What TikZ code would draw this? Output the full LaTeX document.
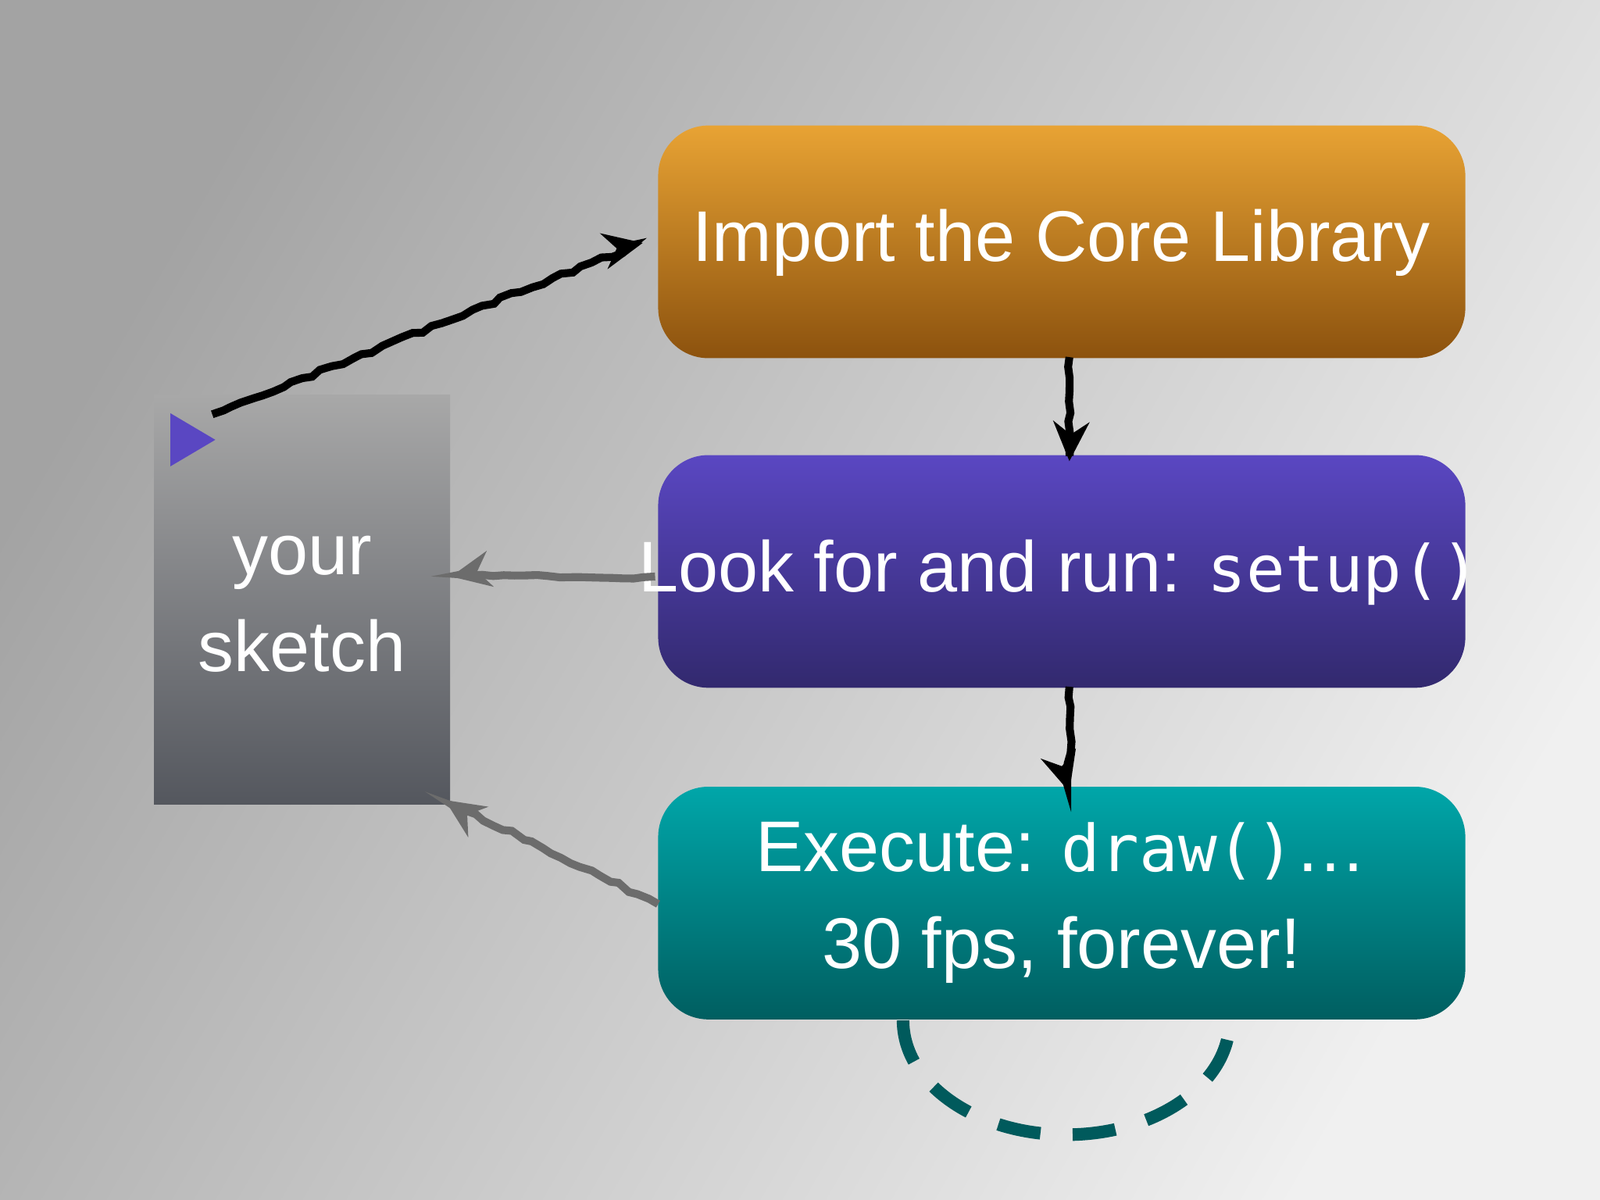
\documentclass[tikz,border=0pt]{standalone}
\usepackage{fontspec}
\setmainfont{Liberation Sans}
\newfontfamily\codefont{DejaVu Sans Mono}
\usetikzlibrary{arrows.meta,decorations.pathmorphing}
\definecolor{orT}{RGB}{232,163,52}\definecolor{orB}{RGB}{140,82,14}
\definecolor{puT}{RGB}{90,71,194}\definecolor{puB}{RGB}{50,41,110}
\definecolor{teT}{RGB}{0,166,169}\definecolor{teB}{RGB}{0,94,96}
\definecolor{grT}{RGB}{168,168,168}\definecolor{grB}{RGB}{84,87,94}
\definecolor{dash}{RGB}{0,90,92}
\begin{document}
\begin{tikzpicture}[x=0.01cm,y=-0.01cm,
  box/.style={rounded corners=14, draw=none},
  lbl/.style={text=white,font=\fontsize{20}{27}\selectfont,align=center},
  hand/.style={line width=2.2pt,decorate,decoration={random steps,segment length=3pt,amplitude=0.6pt},-{Stealth[length=11pt,width=10pt]}},
  handg/.style={hand,draw=gray!85!black,color=gray!85!black}]
\useasboundingbox (0,0) rectangle (1568,1176);
\shade[shading=axis,left color=black!36,right color=black!6,shading angle=60] (0,0) rectangle (1568,1176);
\draw[draw=dash,line width=3.5pt,dash pattern=on 12pt off 9pt] (885,1000) arc[start angle=180,end angle=0,x radius=160,y radius=112];
\shade[box,top color=orT,bottom color=orB] (645,123) rectangle (1436,351);
\shade[box,top color=puT,bottom color=puB] (645,446) rectangle (1436,674);
\shade[box,top color=teT,bottom color=teB] (645,771) rectangle (1436,999);
\shade[top color=grT,bottom color=grB] (151,387) rectangle (441,788);
\fill[puT] (167,405) -- (211,431) -- (167,457) -- cycle;
\node[lbl] (imp) at (1040,238) {Import the Core Library};
\node[lbl] (set) at (1038,561) {Look for and run: {\codefont\fontsize{18}{24}\selectfont setup()}};
\node[lbl] (exe) at (1040,885) {Execute: {\codefont\fontsize{18}{24}\selectfont draw()}…\\30 fps, forever!};
\node[lbl] (sk) at (296,592) {your\\sketch};
\coordinate (a1) at (208,406); \coordinate (a2) at (630,238);
\coordinate (b1) at (1048,350); \coordinate (b2) at (1048,452);
\coordinate (c1) at (1048,673); \coordinate (c2) at (1048,776);
\coordinate (d1) at (642,565); \coordinate (d2) at (442,565);
\coordinate (e1) at (645,886); \coordinate (e2) at (436,784);
\draw[hand] (a1) -- (a2);
\draw[hand] (b1) -- (b2);
\draw[hand] (c1) -- (c2);
\draw[handg] (d1) -- (d2);
\draw[handg] (e1) -- (e2);
\end{tikzpicture}
\end{document}
